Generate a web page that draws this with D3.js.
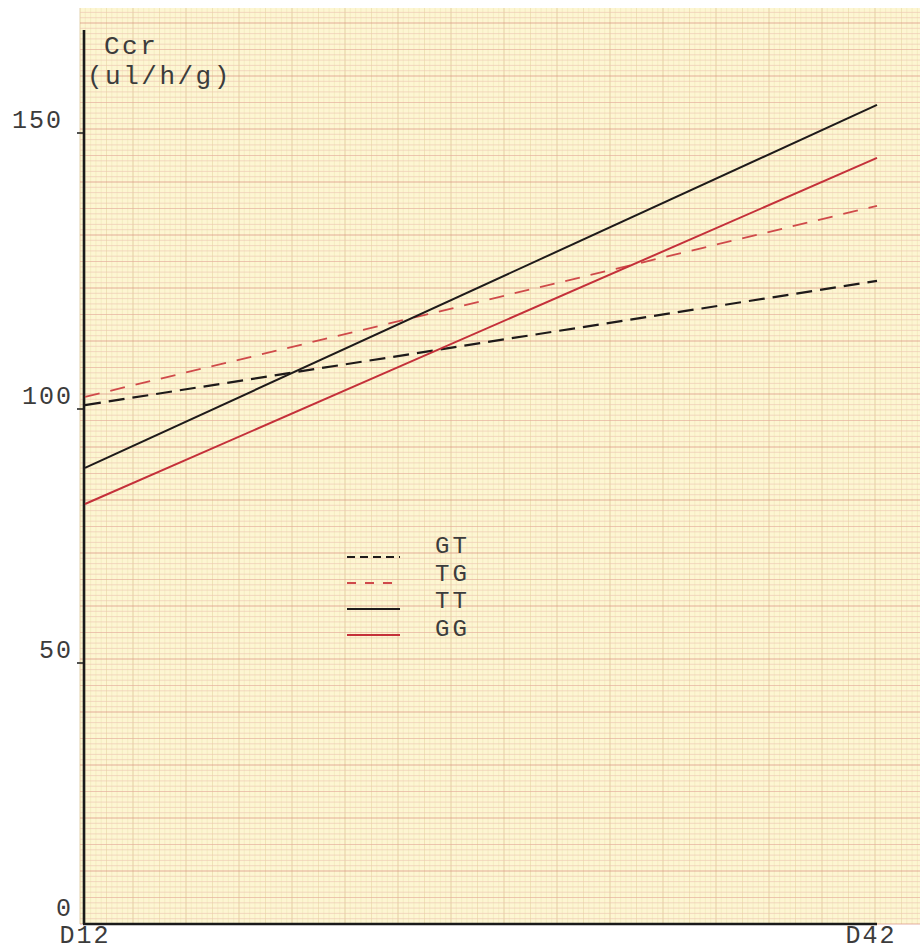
<!DOCTYPE html>
<html>
<head>
<meta charset="utf-8">
<script src="https://cdn.jsdelivr.net/npm/d3@7"></script>
<style>
  html, body { margin: 0; padding: 0; background: #ffffff; }
  svg { display: block; }
  text { font-family: "Liberation Mono", "DejaVu Sans Mono", monospace; fill: #3c3c3c; }
</style>
</head>
<body>
<svg id="chart" width="920" height="951"></svg>
<script>
// ---- data ----
const categories = ["D12", "D42"];
const seriesNames = ["GT", "TG", "TT", "GG"];
const GT = [100.7, 123.2];
const TG = [102.2, 136.8];
const TT = [88.4, 155.1];
const GG = [81.3, 145.5];
const yTicks = [0, 50, 100, 150];
const yTitle = ["Ccr", "(ul/h/g)"];

const seriesValues = { GT, TG, TT, GG };
const styles = {
  GT: { color: "#1e1a1a", dash: "16,8", legendDash: "8,5", width: 2.2 },
  TG: { color: "#cf4a4a", dash: "15,11", legendDash: "9,9", width: 1.8 },
  TT: { color: "#1e1a1a", dash: null, legendDash: null, width: 2 },
  GG: { color: "#c4303a", dash: null, legendDash: null, width: 2 }
};

const svg = d3.select("#chart");

// ---- graph paper background ----
const paper = { x0: 80, x1: 920, y0: 8, y1: 924 };
const mm = 5.3;
const g0 = svg.append("g");
g0.append("rect")
  .attr("x", paper.x0).attr("y", paper.y0)
  .attr("width", paper.x1 - paper.x0).attr("height", paper.y1 - paper.y0)
  .attr("fill", "#fdf6d2");
const nV = Math.floor((paper.x1 - paper.x0) / mm);
g0.selectAll("line.v").data(d3.range(0, nV + 1)).join("line")
  .attr("x1", i => paper.x0 + i * mm).attr("x2", i => paper.x0 + i * mm)
  .attr("y1", paper.y0).attr("y2", paper.y1)
  .attr("stroke", i => i % 10 === 0 ? "#d9c08e" : (i % 5 === 0 ? "#e6d8a4" : "#eee6b6"))
  .attr("stroke-width", 1)
  .attr("opacity", i => i % 10 === 0 ? 0.7 : (i % 5 === 0 ? 0.6 : 0.5));
const nH = Math.floor((paper.y1 - paper.y0) / mm);
g0.selectAll("line.h").data(d3.range(0, nH + 1)).join("line")
  .attr("y1", i => paper.y1 - i * mm).attr("y2", i => paper.y1 - i * mm)
  .attr("x1", paper.x0).attr("x2", paper.x1)
  .attr("stroke", i => i % 10 === 0 ? "#dc9486" : (i % 5 === 0 ? "#e6ab9c" : "#eec4b2"))
  .attr("stroke-width", 1)
  .attr("opacity", i => i % 10 === 0 ? 0.75 : (i % 5 === 0 ? 0.65 : 0.6));

// ---- scales (hand-drawn axis: tick spacing read from the sheet) ----
const x = d3.scalePoint().domain(categories).range([85, 877]);
const y = d3.scaleLinear().domain([0, 50, 100, 150]).range([924, 663, 409, 133]);

// ---- axes ----
const axisG = svg.append("g");
axisG.append("line").attr("x1", 84).attr("x2", 84).attr("y1", 30).attr("y2", 924)
  .attr("stroke", "#1a1a1a").attr("stroke-width", 2.6);
axisG.append("line").attr("x1", 83).attr("x2", x("D42")).attr("y1", y(0)).attr("y2", y(0))
  .attr("stroke", "#1a1a1a").attr("stroke-width", 2.6);

axisG.selectAll("line.ytick").data(yTicks.filter(d => d > 0)).join("line")
  .attr("x1", 77).attr("x2", 84)
  .attr("y1", d => y(d)).attr("y2", d => y(d))
  .attr("stroke", "#1a1a1a").attr("stroke-width", 1.5);
axisG.selectAll("text.ylab").data(yTicks).join("text")
  .attr("x", d => d === 150 ? 63 : 73)
  .attr("y", d => y(d) - (d === 0 ? 8 : 5))
  .attr("text-anchor", "end")
  .attr("font-size", 25)
  .attr("letter-spacing", 2)
  .text(d => d);

axisG.selectAll("text.xlab").data(categories).join("text")
  .attr("x", (d, i) => x(d) + (i === 0 ? 0 : -6))
  .attr("y", 943)
  .attr("text-anchor", "middle")
  .attr("font-size", 25)
  .attr("letter-spacing", 2)
  .text(d => d);

// y title
svg.append("text").attr("x", 104).attr("y", 54).attr("font-size", 26)
  .attr("letter-spacing", 2.5).text(yTitle[0]);
svg.append("text").attr("x", 87).attr("y", 84).attr("font-size", 26)
  .attr("letter-spacing", 2.5).text(yTitle[1]);

// ---- series lines ----
const line = d3.line().x((d, i) => x(categories[i])).y(d => y(d));
const lg = svg.append("g");
seriesNames.forEach(name => {
  const s = styles[name];
  lg.append("path")
    .attr("d", line(seriesValues[name]))
    .attr("fill", "none")
    .attr("stroke", s.color)
    .attr("stroke-width", s.width)
    .attr("stroke-dasharray", s.dash);
});

// ---- legend ----
const leg = svg.append("g");
seriesNames.forEach((name, i) => {
  const s = styles[name];
  const ly = 557 + i * 26;
  leg.append("line")
    .attr("x1", 347).attr("x2", 400).attr("y1", ly).attr("y2", ly)
    .attr("stroke", s.color).attr("stroke-width", s.width)
    .attr("stroke-dasharray", s.legendDash);
  leg.append("text")
    .attr("x", 435).attr("y", 553 + i * 27.6)
    .attr("font-size", 24)
    .attr("letter-spacing", 3)
    .text(name);
});
</script>
</body>
</html>
